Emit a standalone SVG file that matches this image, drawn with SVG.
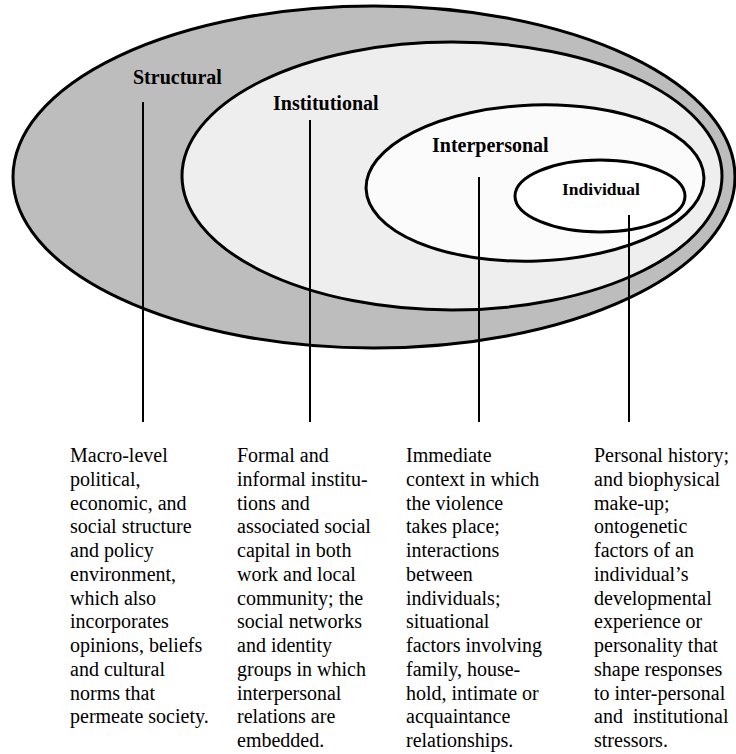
<svg xmlns="http://www.w3.org/2000/svg" width="736" height="754" viewBox="0 0 736 754">
<style>
.ring{stroke:#000;stroke-width:3}
.lbl{font-family:"Liberation Serif","Times New Roman",serif;font-weight:bold;font-size:20px;fill:#000}
.desc{font-family:"Liberation Serif","Times New Roman",serif;font-size:20px;fill:#000}
.conn line{stroke:#000;stroke-width:2}
</style>
<rect width="736" height="754" fill="#fff"/>
<g id="structural">
<ellipse class="ring" cx="374" cy="177" rx="361" ry="171" fill="#bdbdbd"/>
<text class="lbl" x="133" y="84">Structural</text>
</g>
<g id="institutional">
<ellipse class="ring" cx="452" cy="176" rx="270" ry="134" fill="#eeeeee"/>
<text class="lbl" x="273" y="110">Institutional</text>
</g>
<g id="interpersonal">
<ellipse class="ring" cx="535" cy="183" rx="169" ry="78" fill="#fbfbfb" transform="rotate(-2 535 183)"/>
<text class="lbl" x="432" y="152">Interpersonal</text>
</g>
<g id="individual">
<ellipse class="ring" cx="600" cy="196" rx="85" ry="36" fill="#fff"/>
<text class="lbl" x="562" y="195" style="font-size:17.5px">Individual</text>
</g>
<g id="connectors" class="conn">
<line x1="143" y1="102" x2="143" y2="422"/>
<line x1="310" y1="120" x2="310" y2="422"/>
<line x1="479" y1="177" x2="479" y2="422"/>
<line x1="629" y1="215" x2="629" y2="422"/>
</g>
<g id="desc-structural">
<text class="desc" x="70" y="462">
<tspan x="70" dy="0">Macro-level</tspan>
<tspan x="70" dy="23.75">political,</tspan>
<tspan x="70" dy="23.75">economic, and</tspan>
<tspan x="70" dy="23.75">social structure</tspan>
<tspan x="70" dy="23.75">and policy</tspan>
<tspan x="70" dy="23.75">environment,</tspan>
<tspan x="70" dy="23.75">which also</tspan>
<tspan x="70" dy="23.75">incorporates</tspan>
<tspan x="70" dy="23.75">opinions, beliefs</tspan>
<tspan x="70" dy="23.75">and cultural</tspan>
<tspan x="70" dy="23.75">norms that</tspan>
<tspan x="70" dy="23.75">permeate society.</tspan>
</text>
</g>
<g id="desc-institutional">
<text class="desc" x="237" y="462">
<tspan x="237" dy="0">Formal and</tspan>
<tspan x="237" dy="23.75">informal institu-</tspan>
<tspan x="237" dy="23.75">tions and</tspan>
<tspan x="237" dy="23.75">associated social</tspan>
<tspan x="237" dy="23.75">capital in both</tspan>
<tspan x="237" dy="23.75">work and local</tspan>
<tspan x="237" dy="23.75">community; the</tspan>
<tspan x="237" dy="23.75">social networks</tspan>
<tspan x="237" dy="23.75">and identity</tspan>
<tspan x="237" dy="23.75">groups in which</tspan>
<tspan x="237" dy="23.75">interpersonal</tspan>
<tspan x="237" dy="23.75">relations are</tspan>
<tspan x="237" dy="23.75">embedded.</tspan>
</text>
</g>
<g id="desc-interpersonal">
<text class="desc" x="406" y="462">
<tspan x="406" dy="0">Immediate</tspan>
<tspan x="406" dy="23.75">context in which</tspan>
<tspan x="406" dy="23.75">the violence</tspan>
<tspan x="406" dy="23.75">takes place;</tspan>
<tspan x="406" dy="23.75">interactions</tspan>
<tspan x="406" dy="23.75">between</tspan>
<tspan x="406" dy="23.75">individuals;</tspan>
<tspan x="406" dy="23.75">situational</tspan>
<tspan x="406" dy="23.75">factors involving</tspan>
<tspan x="406" dy="23.75">family, house-</tspan>
<tspan x="406" dy="23.75">hold, intimate or</tspan>
<tspan x="406" dy="23.75">acquaintance</tspan>
<tspan x="406" dy="23.75">relationships.</tspan>
</text>
</g>
<g id="desc-individual">
<text class="desc" x="594" y="462">
<tspan x="594" dy="0">Personal history;</tspan>
<tspan x="594" dy="23.75">and biophysical</tspan>
<tspan x="594" dy="23.75">make-up;</tspan>
<tspan x="594" dy="23.75">ontogenetic</tspan>
<tspan x="594" dy="23.75">factors of an</tspan>
<tspan x="594" dy="23.75">individual’s</tspan>
<tspan x="594" dy="23.75">developmental</tspan>
<tspan x="594" dy="23.75">experience or</tspan>
<tspan x="594" dy="23.75">personality that</tspan>
<tspan x="594" dy="23.75">shape responses</tspan>
<tspan x="594" dy="23.75">to inter-personal</tspan>
<tspan x="594" dy="23.75">and&#160; institutional</tspan>
<tspan x="594" dy="23.75">stressors.</tspan>
</text>
</g>
</svg>
